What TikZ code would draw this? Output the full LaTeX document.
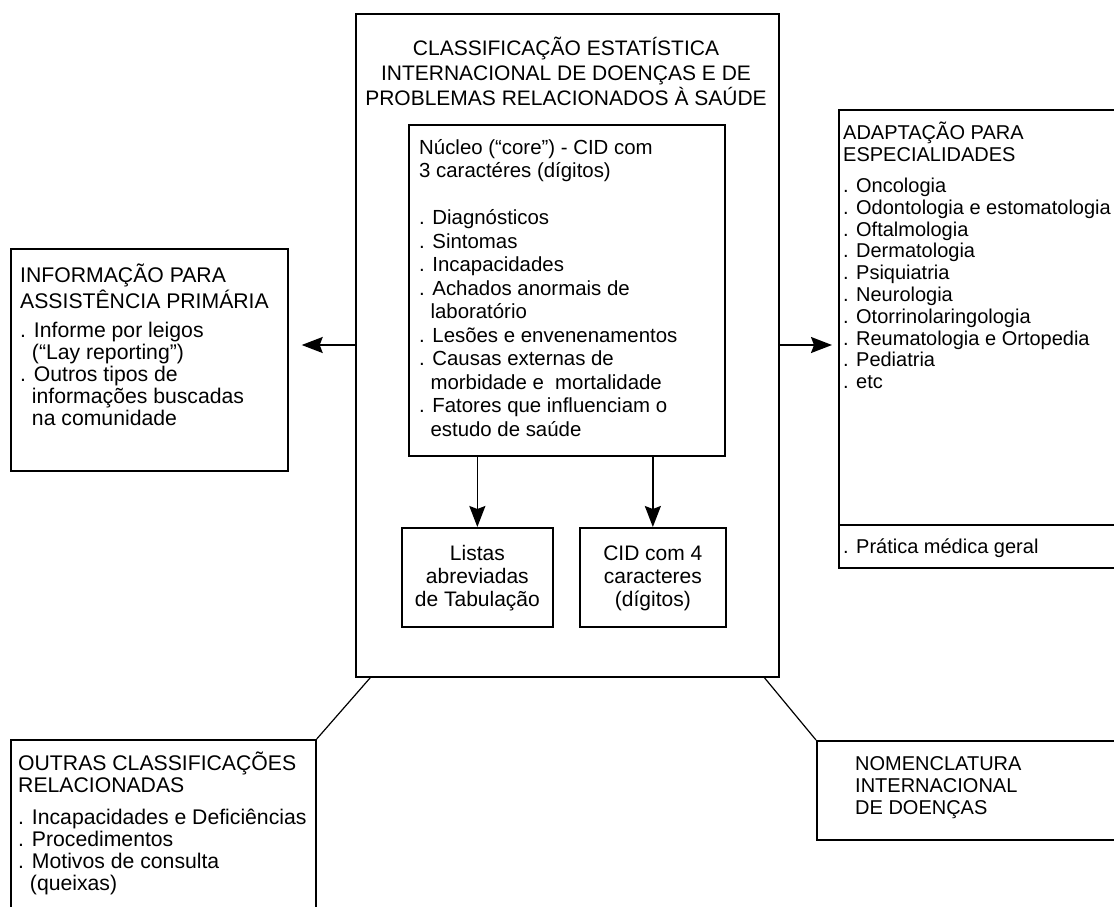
\documentclass[tikz,border=0pt]{standalone}
\usepackage{fontspec}
\setmainfont{Liberation Sans}
\usetikzlibrary{arrows.meta,calc}
\newcommand\ind{\hphantom{.\ }}
\begin{document}
\begin{tikzpicture}[x=1pt,y=-1pt,
  box/.style={draw, line width=1.7pt, inner sep=0pt, anchor=north west},
  txt/.style={inner sep=0pt, anchor=north west, align=left, font=\fontsize{20}{22}\selectfont},
  bigtxt/.style={inner sep=0pt, anchor=north west, align=left, font=\fontsize{21.2}{22}\selectfont},
  coretxt/.style={inner sep=0pt, anchor=north west, align=left, font=\fontsize{20.4}{23.5}\selectfont},
  ctxt/.style={inner sep=0pt, anchor=north, align=center, font=\fontsize{21}{23}\selectfont},
  ttl/.style={inner sep=0pt, anchor=north, align=center, font=\fontsize{21}{25}\selectfont},
  arr/.style={line width=1.7pt, -{Stealth[length=21pt,width=16pt,inset=3pt]}},
  link/.style={line width=1.2pt}]
\useasboundingbox (0,0) rectangle (1114,906);
\clip (0,0) rectangle (1114,906);

% boxes
\node[box, minimum width=423pt, minimum height=663pt] (main) at (355,13) {};
\node[box, minimum width=316pt, minimum height=331pt] (core) at (408,124) {};
\node[box, minimum width=151pt, minimum height=99pt] (listas) at (401,527) {};
\node[box, minimum width=146pt, minimum height=99pt] (cid4) at (579,527) {};
\node[box, minimum width=277pt, minimum height=222pt] (left) at (10,248) {};
\node[box, minimum width=290pt, minimum height=458pt] (right) at (838,109) {};
\node[box, minimum width=305pt, minimum height=185pt] (bl) at (10,739) {};
\node[box, minimum width=310pt, minimum height=99pt] (br) at (816,740) {};

% texts
\node[ttl] (title) at (566,37) {\strut CLASSIFICAÇÃO ESTATÍSTICA\\INTERNACIONAL DE DOENÇAS E DE\\PROBLEMAS RELACIONADOS À SAÚDE};
\node[coretxt, font=\fontsize{20.4}{23}\selectfont] (corehead) at (419,138) {\strut Núcleo (“core”) - CID com\\3 caractéres (dígitos)};
\node[coretxt] (corelist) at (419,208) {\strut . Diagnósticos\\. Sintomas\\. Incapacidades\\. Achados anormais de\\\ind laboratório\\. Lesões e envenenamentos\\. Causas externas de\\\ind morbidade e\ \ mortalidade\\. Fatores que influenciam o\\\ind estudo de saúde};
\node[ctxt] (listastxt) at (listas.north |- 0,544) {\strut Listas\\abreviadas\\de Tabulação};
\node[ctxt] (cid4txt) at (cid4.north |- 0,544) {\strut CID com 4\\caracteres\\(dígitos)};

\node[bigtxt] (lefthead) at (20,264) {\strut INFORMAÇÃO PARA\\ASSISTÊNCIA PRIMÁRIA};
\node[bigtxt] (leftlist) at (20,322) {\strut . Informe por leigos\\\ind(“Lay reporting”)\\. Outros tipos de\\\ind informações buscadas\\\ind na comunidade};

\node[txt] (righthead) at (843,122) {\strut ADAPTAÇÃO PARA\\ESPECIALIDADES};
\node[txt, font=\fontsize{20}{21.8}\selectfont] (rightlist) at (843,177) {\strut . Oncologia\\. Odontologia e estomatologia\\. Oftalmologia\\. Dermatologia\\. Psiquiatria\\. Neurologia\\. Otorrinolaringologia\\. Reumatologia e Ortopedia\\. Pediatria\\. etc};
\node[txt] (rightgen) at (843,538) {\strut . Prática médica geral};

\node[bigtxt] (blhead) at (18,752) {\strut OUTRAS CLASSIFICAÇÕES\\RELACIONADAS};
\node[bigtxt] (bllist) at (18,809) {\strut . Incapacidades e Deficiências\\. Procedimentos\\. Motivos de consulta\\\ind(queixas)};

\node[txt] (brtxt) at (855,755) {\strut NOMENCLATURA\\INTERNACIONAL\\DE DOENÇAS};

% divider in right box
\coordinate (div) at (838,525);
\draw[line width=1.7pt] (div) -- (div -| right.east);

% arrows
\coordinate (ay) at (0,345);
\draw[arr, shorten >=13pt] (main.west |- ay) -- (left.east |- ay);
\draw[arr, shorten >=6pt] (main.east |- ay) -- (right.west |- ay);
\draw[arr] (core.south -| listas.north) -- (listas.north);
\draw[arr] (core.south -| cid4.north) -- (cid4.north);

% links
\draw[link] ($(main.south west)!0.036!(main.south east)$) -- (bl.north east);
\draw[link] ($(main.south west)!0.964!(main.south east)$) -- (br.north west);
\end{tikzpicture}
\end{document}
